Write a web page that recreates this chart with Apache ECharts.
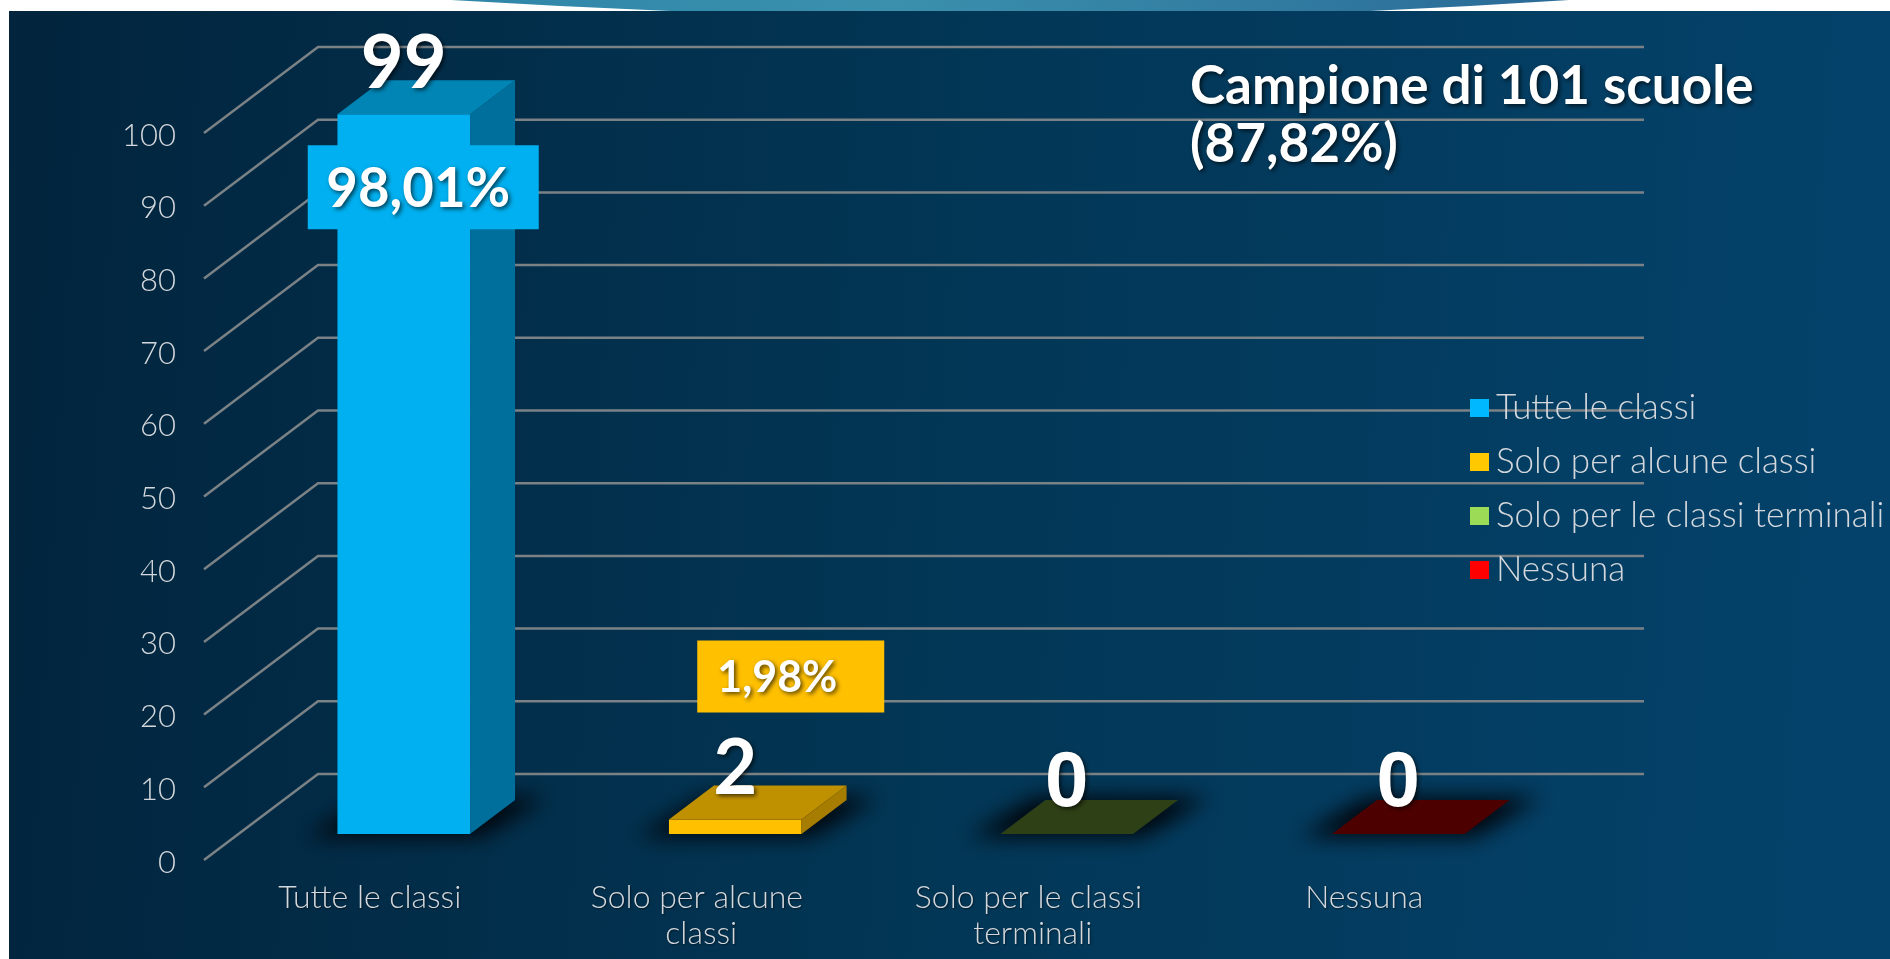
<!DOCTYPE html>
<html><head><meta charset="utf-8">
<style>html,body{margin:0;padding:0;background:#fff;overflow:hidden}#c{width:1890px;height:959px}</style>
<script src="https://cdn.jsdelivr.net/npm/echarts@6/dist/echarts.min.js"></script>
</head><body><div id="c"></div>
<script>
const categories = ['Tutte le classi','Solo per alcune classi','Solo per le classi terminali','Nessuna'];
const counts = [99,2,0,0];
const percentLabels = ['98,01%','1,98%','',''];
const tickValues = [0,10,20,30,40,50,60,70,80,90,100];
const titleText = 'Campione di 101 scuole\n(87,82%)';

const frontColors = ['#00B0F0','#FFC000','#92D050','#FF0000'];
const sideColors  = ['#006F9B','#A67D00','#5C8232','#A00000'];
const topColors   = ['#0085B5','#BF9000','#2E4015','#4D0000'];
const legendColors= ['#00B8FF','#FFC800','#9BDB55','#FF0000'];
const countFonts  = ['bold 74px Lato','bold 76px Lato','bold 78px "Liberation Sans"','bold 78px "Liberation Sans"'];
const percentBoxes = [
  {dx:19.5,dy:73,w:231,h:84,tx:-5,ty:2,size:54.5},
  {dx:55.5,dy:-143,w:187,h:72,tx:-13.5,ty:2,size:43},null,null];

const FONT='Lato', TXT='#d4d8dc';
const DEPTH={x:114,y:-86}, BAR_OFF={x:34,y:-26}, BAR_D={x:45,y:-34}, BAR_RATIO=0.4;
const shadowTxt={textShadowColor:'rgba(0,0,0,.65)',textShadowBlur:4,textShadowOffsetX:2,textShadowOffsetY:2};
const FAR=4000;

function renderGrid(params,api){
  const v=api.value(0), n=categories.length;
  const bw=api.size([1,0])[0];
  const p0=api.coord([0,v]), p1=api.coord([n-1,v]);
  const x0=p0[0]-bw/2, x1=p1[0]+bw/2, y=p0[1];
  return {type:'polyline',silent:true,
    shape:{points:[[x0,y],[x0+DEPTH.x,y+DEPTH.y],[x1+DEPTH.x,y+DEPTH.y]]},
    style:{stroke:'#7b8286',lineWidth:2.5,fill:null}};
}
function renderBar(params,api){
  const i=api.value(0), v=api.value(1);
  const bw=api.size([1,0])[0], w=bw*BAR_RATIO;
  const b=api.coord([i,0]), t=api.coord([i,v]);
  const xl=b[0]-w/2+BAR_OFF.x, xr=xl+w, yb=b[1]+BAR_OFF.y, yt=t[1]+BAR_OFF.y, cx=(xl+xr)/2;
  const dx=BAR_D.x, dy=BAR_D.y;
  const kids=[];
  // soft floor shadow: the casting shape sits off-canvas, only its blur is visible
  kids.push({type:'polygon',silent:true,
    shape:{points:[[xl-32-FAR,yb+3],[xr+10-FAR,yb+3],[xr+dx+32-FAR,yb+dy-3],[xl+dx-10-FAR,yb+dy-3]]},
    style:{fill:'#000',shadowBlur:22,shadowColor:'rgba(0,4,10,1)',shadowOffsetX:FAR}});
  if(v>0){
    kids.push({type:'rect',silent:true,shape:{x:xl,y:yt,width:w,height:yb-yt},style:{fill:frontColors[i]}});
    kids.push({type:'polygon',silent:true,shape:{points:[[xr,yt],[xr+dx,yt+dy],[xr+dx,yb+dy],[xr,yb]]},style:{fill:sideColors[i]}});
  }
  kids.push({type:'polygon',silent:true,shape:{points:[[xl,yt],[xr,yt],[xr+dx,yt+dy],[xl+dx,yt+dy]]},style:{fill:topColors[i]}});
  kids.push({type:'text',silent:true,style:Object.assign({x:cx,y:yt-50,text:String(v),align:'center',verticalAlign:'middle',
    font:countFonts[i],fill:'#fff'},shadowTxt)});
  const pb=percentBoxes[i];
  if(pb){
    const bx=cx+pb.dx, by=yt+pb.dy;
    kids.push({type:'rect',silent:true,shape:{x:bx-pb.w/2,y:by-pb.h/2,width:pb.w,height:pb.h},style:{fill:frontColors[i]}});
    kids.push({type:'text',silent:true,style:Object.assign({x:bx+pb.tx,y:by+pb.ty,text:percentLabels[i],align:'center',verticalAlign:'middle',
      font:'bold '+pb.size+'px '+FONT,fill:'#fff'},shadowTxt)});
  }
  return {type:'group',children:kids};
}

const chart=echarts.init(document.getElementById('c'),null,{renderer:'canvas'});
chart.setOption({
  animation:false,
  backgroundColor:'#ffffff',
  title:{text:titleText,left:1185,top:53,
    textStyle:{fontFamily:FONT,fontWeight:'bold',fontSize:53,lineHeight:58,color:'#fff',
      textShadowColor:'rgba(0,0,0,.65)',textShadowBlur:4,textShadowOffsetX:2,textShadowOffsetY:2}},
  graphic:[
    {type:'polygon',z:-10,silent:true,shape:{points:[[451,0],[560,6],[670,11],[1370,11],[1470,6],[1569,0]]},
      style:{fill:new echarts.graphic.LinearGradient(0,0,1,0,[{offset:0,color:'#2f86a8'},{offset:.4,color:'#3a90ad'},{offset:1,color:'#2a6a96'}])}},
    {type:'rect',z:-10,silent:true,shape:{x:9,y:11,width:1881,height:948},
      style:{fill:new echarts.graphic.LinearGradient(0,0,1,0.12,[{offset:0,color:'#02243d'},{offset:.5,color:'#023655'},{offset:1,color:'#04426b'}])}}
  ],
  grid:{left:204,top:133,width:1326,height:727,containLabel:false},
  xAxis:{type:'category',data:categories,boundaryGap:true,axisLine:{show:false},axisTick:{show:false},splitLine:{show:false},
    axisLabel:{interval:0,margin:20,width:262,overflow:'break',fontFamily:FONT,fontWeight:300,fontSize:32,lineHeight:36,color:TXT,
      textShadowColor:'rgba(0,0,0,.5)',textShadowBlur:2,textShadowOffsetX:1,textShadowOffsetY:1}},
  yAxis:{type:'value',min:tickValues[0],max:tickValues[tickValues.length-1],interval:10,axisLine:{show:false},axisTick:{show:false},splitLine:{show:false},
    axisLabel:{margin:28,fontFamily:FONT,fontWeight:300,fontSize:31,color:TXT,verticalAlign:'top',lineHeight:5}},
  legend:{orient:'vertical',left:1465,top:385,itemWidth:19,itemHeight:18,itemGap:18,icon:'rect',selectedMode:false,
    textStyle:{fontFamily:FONT,fontWeight:300,fontSize:35,lineHeight:36,color:TXT,padding:[0,0,0,2]},
    data:categories.map((c,i)=>({name:c,itemStyle:{color:legendColors[i]}}))},
  series:[
    {type:'custom',name:'griglia',z:1,coordinateSystem:'cartesian2d',clip:false,renderItem:renderGrid,
      encode:{y:0},data:tickValues.map(v=>[v]),silent:true},
    ...categories.map((c,i)=>({type:'custom',name:c,z:3+i,coordinateSystem:'cartesian2d',clip:false,renderItem:renderBar,
      itemStyle:{color:frontColors[i]},encode:{x:0,y:1},data:[[i,counts[i]]],silent:true}))
  ]
});
</script></body></html>
